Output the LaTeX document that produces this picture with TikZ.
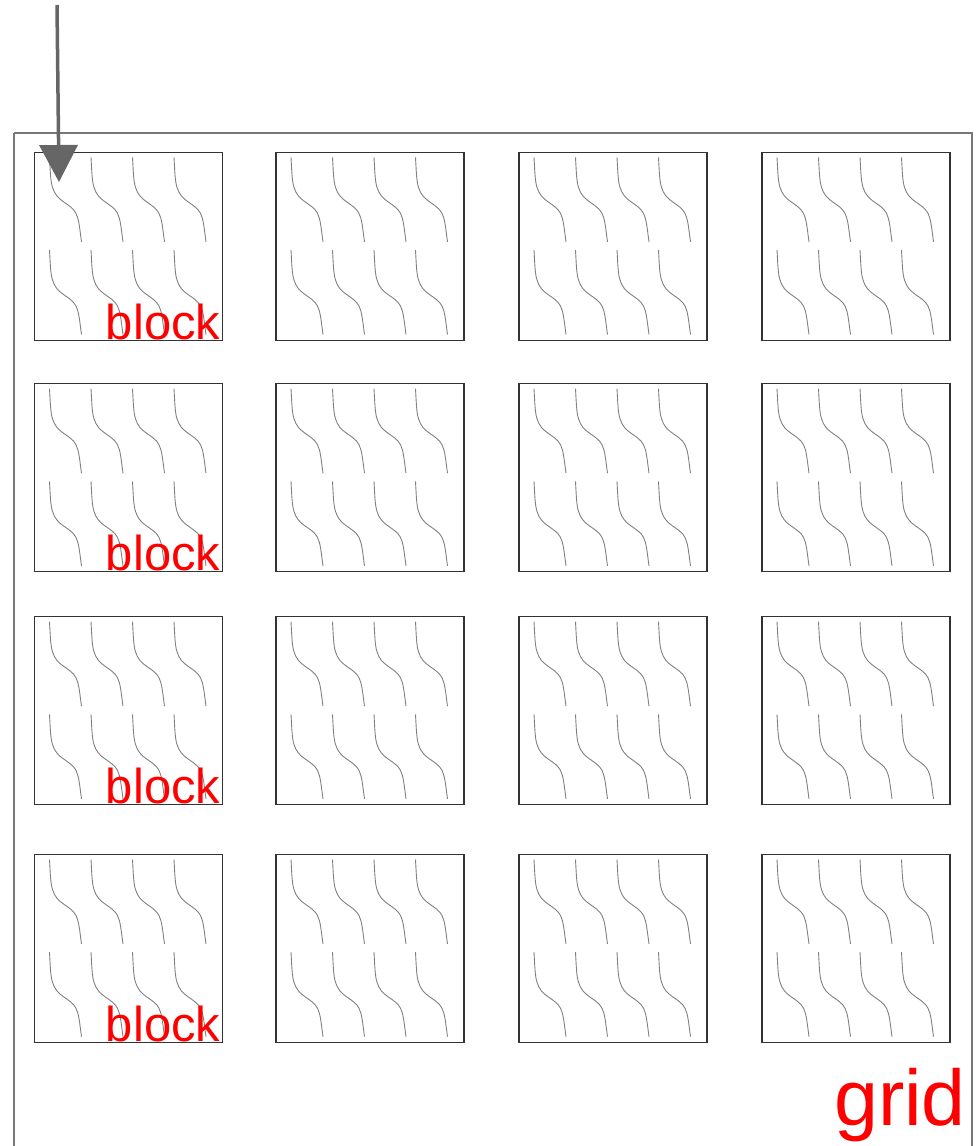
\documentclass[tikz,border=0pt]{standalone}
\usepackage{fontspec}
\setmainfont{Liberation Sans}
\usetikzlibrary{arrows.meta}
\definecolor{wiggray}{HTML}{808080}
\definecolor{boxgray}{HTML}{333333}
\definecolor{outergray}{HTML}{777777}
\definecolor{arrowgray}{HTML}{666666}
\tikzset{
  blockbox/.style={draw=boxgray, line width=1.2pt, minimum width=188pt, minimum height=188pt, inner sep=0pt, outer sep=0pt, anchor=north west},
  wiggle/.style={draw=wiggray, line width=0.9pt},
  outerbox/.style={draw=outergray, line width=1.8pt},
  redlabel/.style={text=red, inner sep=0pt, anchor=base east},
  bigarrow/.style={draw=arrowgray, line width=3.5pt, -{Triangle[width=38pt,length=37pt]}}
}
\begin{document}
\begin{tikzpicture}[x=1pt,y=-1pt]
\useasboundingbox (0,0) rectangle (978,1146);
% outer grid frame (extends below the picture)
\draw[outerbox] (14,133) -- (972,133) -- (972,1170) (14,133) -- (14,1170);
\node[redlabel, font=\fontsize{79}{79}\selectfont] (gridlabel) at (966,1125) {grid};
% blocks
\foreach \c/\bx in {1/34.5,2/276,3/519,4/762}{
  \foreach \r/\by in {1/152.3,2/383.7,3/616.7,4/854.5}{
    \node[blockbox] (b\r\c) at (\bx,\by) {};
    \foreach \dx in {0,41.5,83,124.5}{
      \foreach \dy in {0,92.7}{
        \draw[wiggle, shift={(\bx+15+\dx,\by+5+\dy)}]
          (0,0) .. controls (0.8,14) and (1,24) .. (3,30)
          .. controls (5,37) and (9,41) .. (14,44.5)
          .. controls (19,48) and (24,51) .. (26.5,56)
          .. controls (29.5,62) and (30,70) .. (32,84.5);
      }
    }
  }
}
\foreach \r in {1,2,3,4}{
  \node[redlabel, font=\fontsize{49}{49}\selectfont] (bl\r) at ([xshift=-2pt,yshift=1pt]b\r1.south east) {block};
}
% arrow
\coordinate (src) at (57,5);
\coordinate (tgt) at (59,182);
\draw[bigarrow] (src) -- (tgt);
\end{tikzpicture}
\end{document}
